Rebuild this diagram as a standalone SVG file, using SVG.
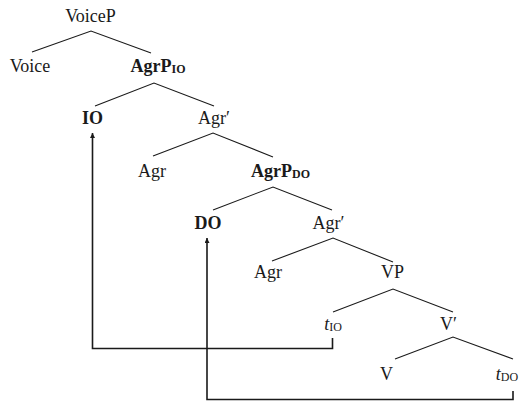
<svg xmlns="http://www.w3.org/2000/svg" width="529" height="401" viewBox="0 0 529 401">
<style>
text{font-family:"Liberation Serif","Times New Roman",serif;font-size:18px;fill:#1a1a1a;text-anchor:middle}
.b{font-weight:bold}
.i{font-style:italic}
.sub{font-size:12px}
.edge{stroke:#1a1a1a;stroke-width:1.1;fill:none}
.move{stroke:#1a1a1a;stroke-width:1.6;fill:none}
</style>
<defs>
<marker id="ah" viewBox="0 0 10 10" refX="10" refY="5" markerWidth="7" markerHeight="5" markerUnits="userSpaceOnUse" orient="auto">
<path d="M0,0 L10,5 L0,10 Z" fill="#1a1a1a"/>
</marker>
</defs>
<rect width="529" height="401" fill="#fff"/>
<g id="connectors">
<path class="edge" d="M32,52 L91,31 L151,53"/>
<path class="edge" d="M95,106 L154,83 L214,106"/>
<path class="edge" d="M153,156 L213,133 L273,157"/>
<path class="edge" d="M213,210 L273,187 L332,210"/>
<path class="edge" d="M272,261 L333,238 L393,262"/>
<path class="edge" d="M333,312 L393,289 L453,312"/>
<path class="edge" d="M395,359 L453,337 L513,359"/>
<path class="move" d="M332.5,338 V348.5 H92.5 V133" marker-end="url(#ah)"/>
<path class="move" d="M513,391 V399.5 H207 V238" marker-end="url(#ah)"/>
</g>
<g id="n-VoiceP"><text x="90.5" y="21.5">VoiceP</text></g>
<g id="n-Voice"><text x="30" y="72">Voice</text></g>
<g id="n-AgrP-IO"><text x="158" y="72" class="b">AgrP<tspan class="sub" dy="1">IO</tspan></text></g>
<g id="n-IO"><text x="92.5" y="124" class="b">IO</text></g>
<g id="n-Agrbar1"><text x="214" y="124">Agr′</text></g>
<g id="n-Agr1"><text x="152" y="177">Agr</text></g>
<g id="n-AgrP-DO"><text x="280.5" y="177" class="b">AgrP<tspan class="sub" dy="1">DO</tspan></text></g>
<g id="n-DO"><text x="208" y="229" class="b">DO</text></g>
<g id="n-Agrbar2"><text x="328.5" y="229">Agr′</text></g>
<g id="n-Agr2"><text x="268" y="278">Agr</text></g>
<g id="n-VP"><text x="392.5" y="278">VP</text></g>
<g id="n-tIO"><text x="333" y="330"><tspan class="i">t</tspan><tspan class="sub" dy="1">IO</tspan></text></g>
<g id="n-Vbar"><text x="448.5" y="330">V′</text></g>
<g id="n-V"><text x="386.5" y="380">V</text></g>
<g id="n-tDO"><text x="507" y="380"><tspan class="i">t</tspan><tspan class="sub" dy="1">DO</tspan></text></g>
</svg>
